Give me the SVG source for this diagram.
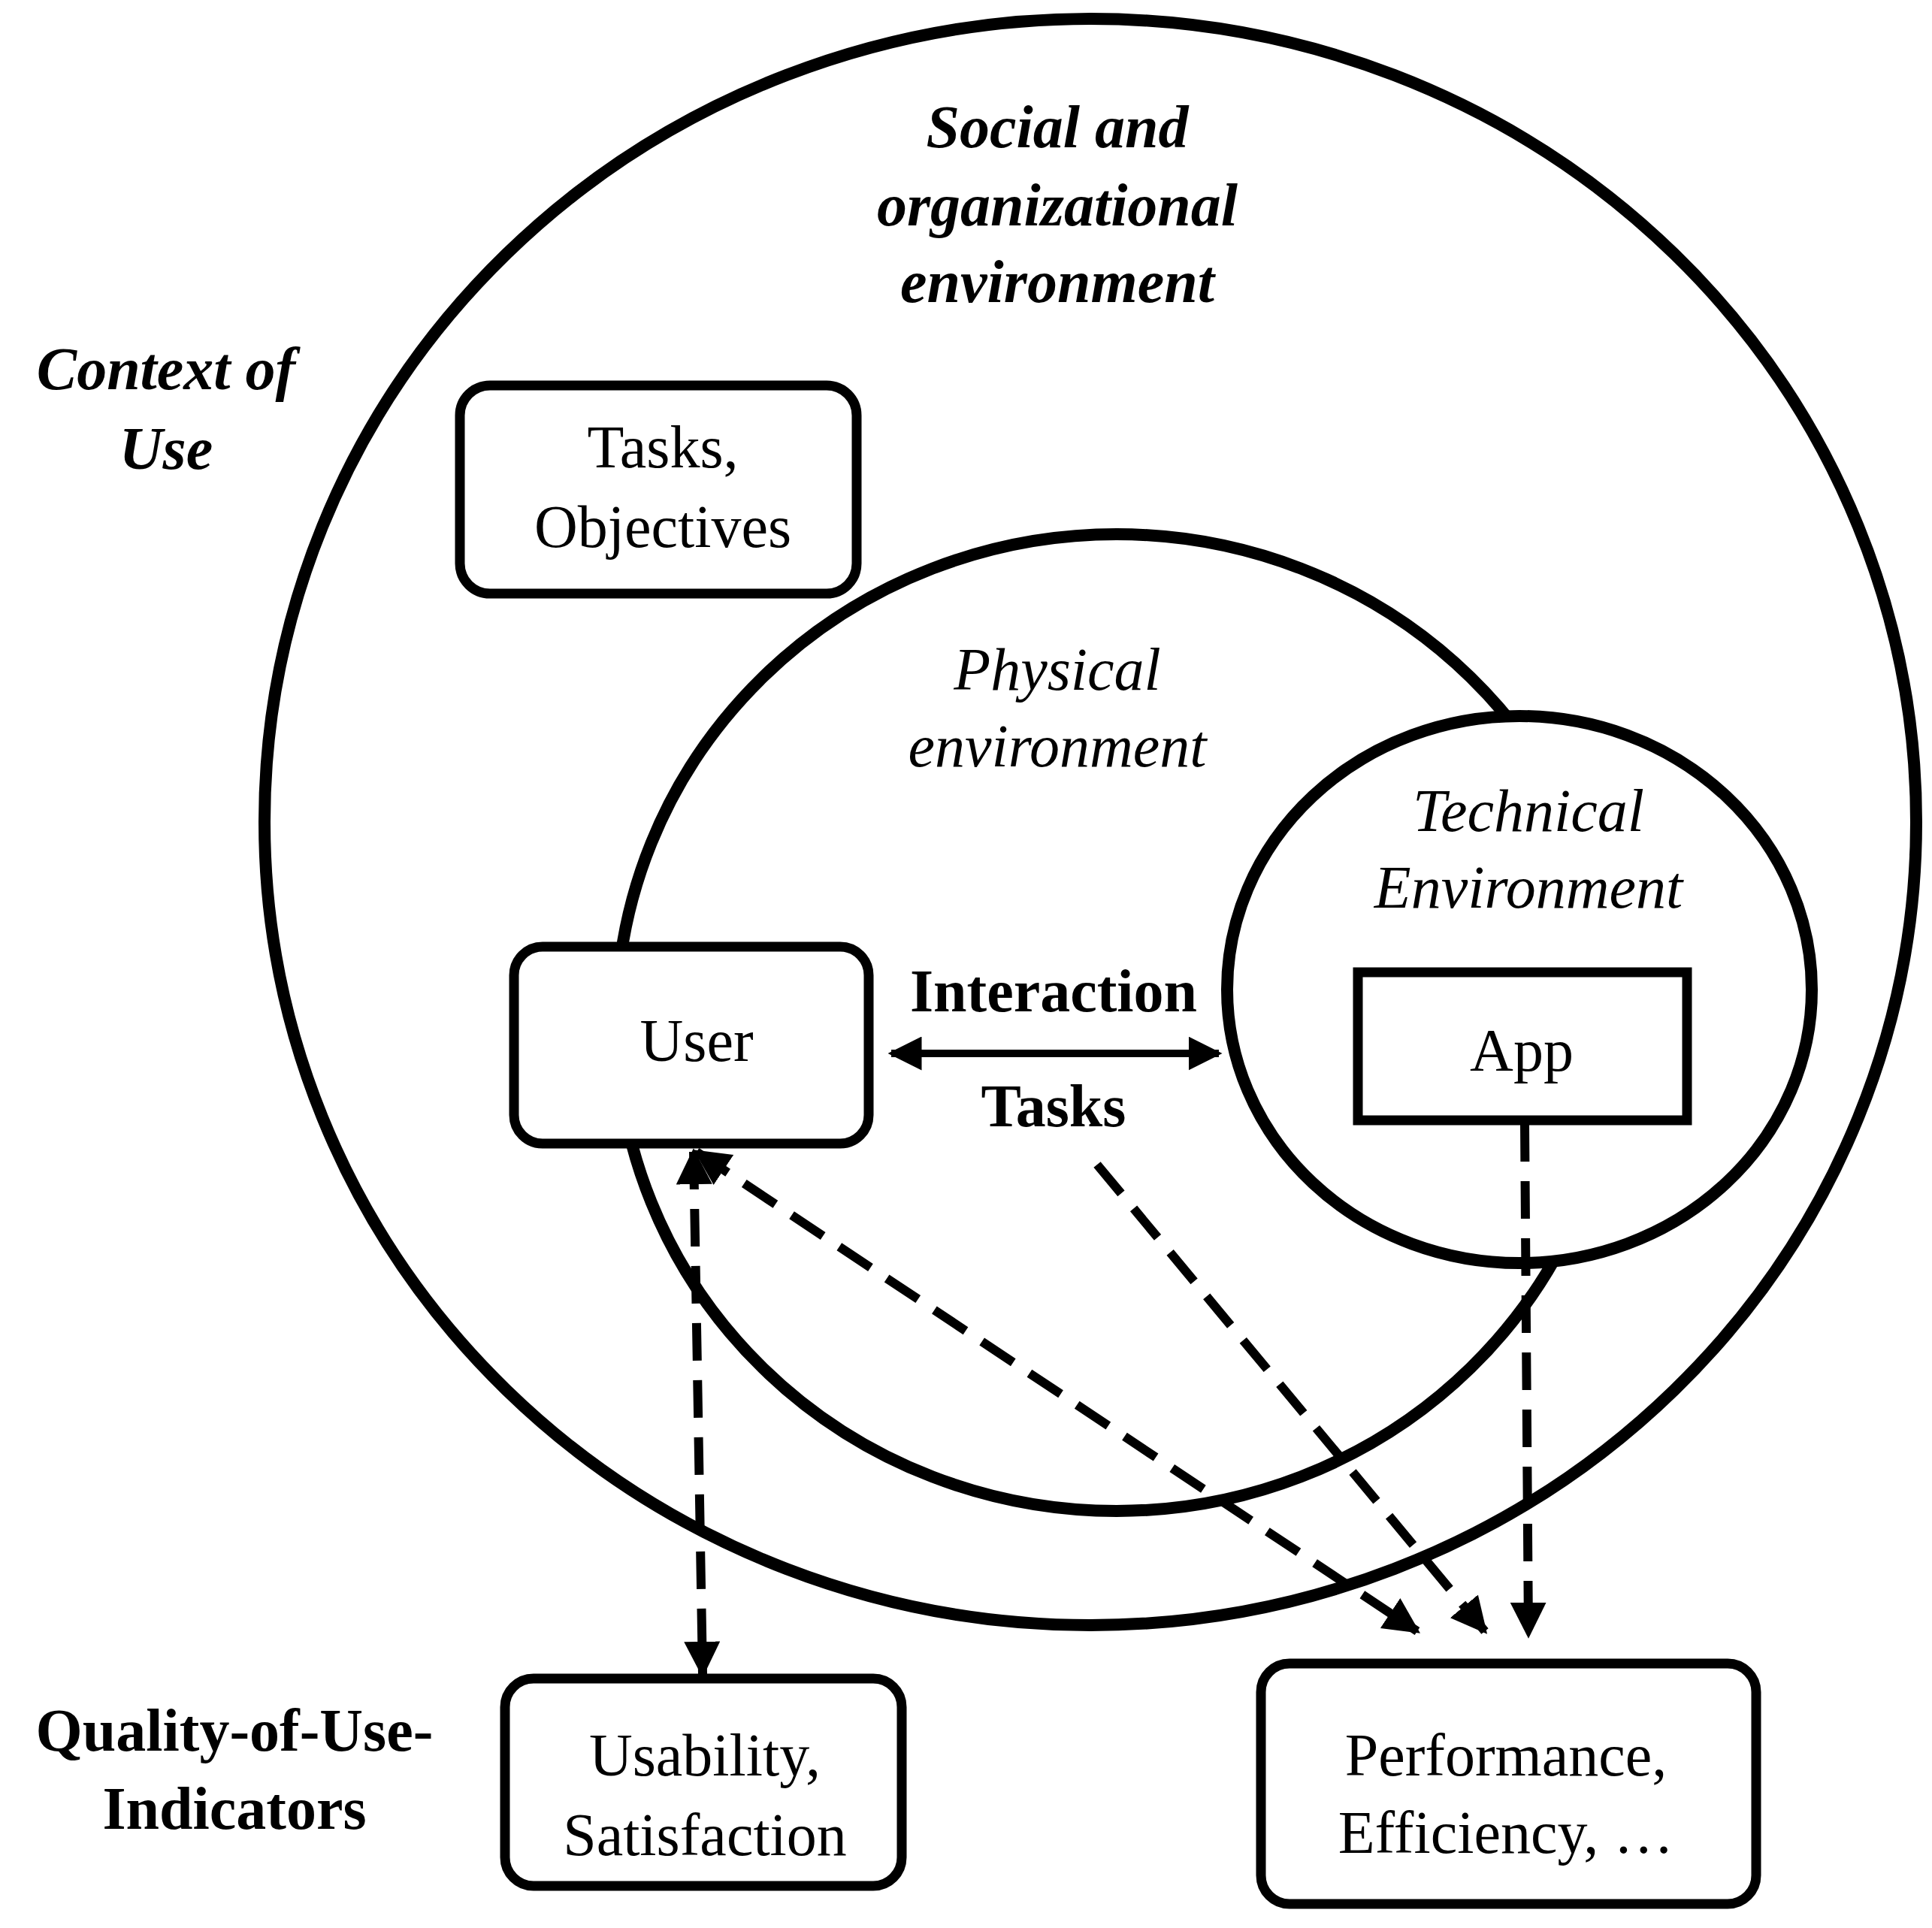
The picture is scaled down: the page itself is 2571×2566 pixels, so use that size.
<svg xmlns="http://www.w3.org/2000/svg" width="2571" height="2566" viewBox="0 0 2571 2566">
<style>
.c{fill:#fff;stroke:#000;stroke-width:16}
.b{fill:#fff;stroke:#000;stroke-width:13}
.t{font-family:"Liberation Serif",serif;font-size:80px;text-anchor:middle;fill:#000}
.bi{font-weight:bold;font-style:italic}
.i{font-style:italic}
.bo{font-weight:bold}
.d{stroke:#000;stroke-width:12;stroke-dasharray:50 26;fill:none}
</style>
<defs>
<marker id="a" viewBox="0 0 10 10" refX="9" refY="5" markerWidth="4" markerHeight="4" orient="auto-start-reverse" markerUnits="strokeWidth"><path d="M0,0L10,5L0,10z"/></marker>
<marker id="s" viewBox="0 0 10 10" refX="9" refY="5" markerWidth="4.5" markerHeight="4.5" orient="auto-start-reverse" markerUnits="strokeWidth"><path d="M0,0L10,5L0,10z"/></marker>
</defs>
<rect width="2571" height="2566" fill="#fff"/>
<g id="social"><ellipse class="c" cx="1451" cy="1094" rx="1099" ry="1069"/>
<text class="t bi" x="1407" y="196">Social and</text><text class="t bi" x="1407" y="300">organizational</text><text class="t bi" x="1407" y="402">environment</text></g>
<g id="context"><text class="t bi" x="221" y="518">Context of</text><text class="t bi" x="221" y="624">Use</text></g>
<g id="tasks"><rect class="b" x="612" y="513" width="528" height="277" rx="40"/><text class="t" x="882" y="622">Tasks,</text><text class="t" x="882" y="728">Objectives</text></g>
<g id="physical"><ellipse class="c" cx="1486" cy="1361" rx="666" ry="650"/>
<text class="t i" x="1407" y="918">Physical</text><text class="t i" x="1407" y="1020">environment</text></g>
<g id="technical"><ellipse class="c" cx="2022" cy="1317" rx="389" ry="364"/>
<text class="t i" x="2034" y="1106">Technical</text><text class="t i" x="2034" y="1208">Environment</text></g>
<g id="user"><rect class="b" x="684" y="1260" width="472" height="262" rx="38"/><text class="t" x="927" y="1412">User</text></g>
<g id="app"><rect class="b" x="1807" y="1294" width="438" height="197"/><text class="t" x="2025" y="1425">App</text></g>
<g id="quality"><text class="t bo" x="312" y="2330">Quality-of-Use-</text><text class="t bo" x="312" y="2434">Indicators</text></g>
<g id="usability"><rect class="b" x="672" y="2234" width="528" height="276" rx="38"/><text class="t" x="938" y="2363">Usability,</text><text class="t" x="938" y="2469">Satisfaction</text></g>
<g id="performance"><rect class="b" x="1678" y="2214" width="659" height="320" rx="38"/><text class="t" x="2004" y="2363">Performance,</text><text class="t" x="2004" y="2466">Efficiency, …</text></g>
<g id="connectors">
<text class="t bo" x="1402" y="1346">Interaction</text><text class="t bo" x="1402" y="1499">Tasks</text>
<line x1="1186" y1="1402" x2="1622" y2="1402" stroke="#000" stroke-width="10" marker-start="url(#s)" marker-end="url(#s)"/>
<line class="d" x1="923" y1="1533" x2="935" y2="2228" marker-start="url(#a)" marker-end="url(#a)"/>
<line class="d" x1="927" y1="1533" x2="1886" y2="2171" marker-start="url(#a)" marker-end="url(#a)"/>
<line class="d" x1="1460" y1="1550" x2="1976" y2="2171" marker-end="url(#a)"/>
<line class="d" x1="2029" y1="1496" x2="2034" y2="2176" marker-end="url(#a)"/>
</g>
</svg>
